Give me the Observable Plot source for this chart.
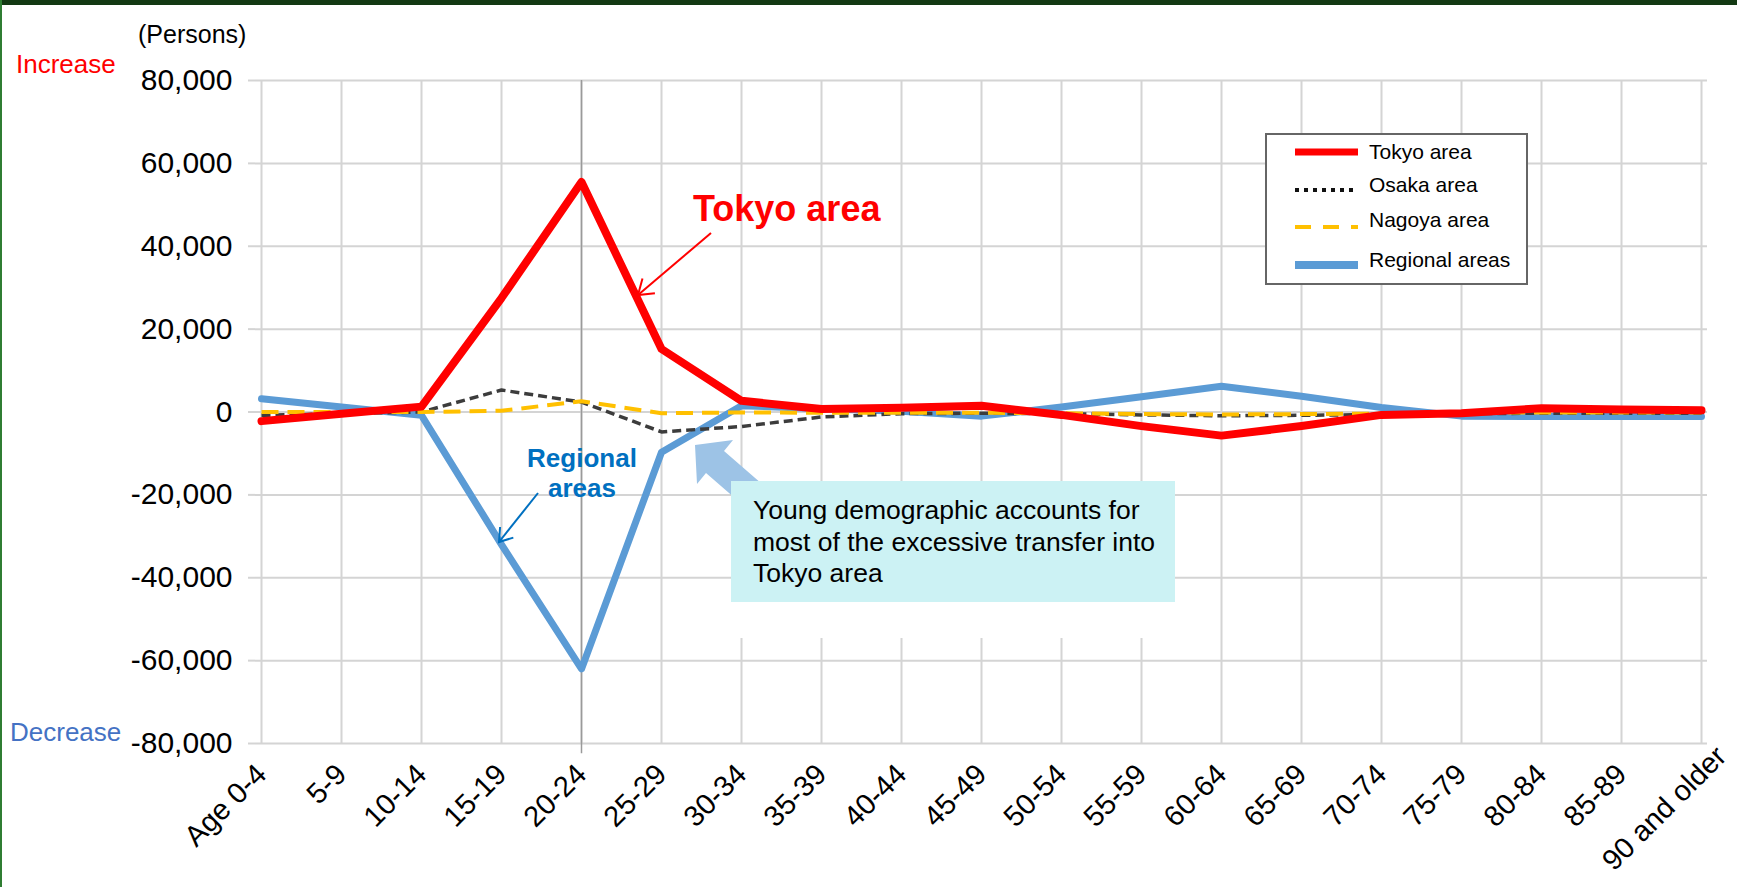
<!DOCTYPE html>
<html><head><meta charset="utf-8">
<script src="https://cdn.jsdelivr.net/npm/d3@7"></script>
<script src="https://cdn.jsdelivr.net/npm/@observablehq/plot@0.6"></script>
<style>
html,body{margin:0;padding:0;background:#fff;}
#wrap{position:relative;width:1737px;height:887px;overflow:hidden;font-family:"Liberation Sans",Arial,sans-serif;background:#fff;}
#topband{position:absolute;left:0;top:0;width:1737px;height:5px;background:#133913;}
#leftband{position:absolute;left:0;top:0;width:2px;height:887px;background:#2f7d32;}
</style></head>
<body><div id="wrap"></div>
<script>
const categories = ["Age 0-4","5-9","10-14","15-19","20-24","25-29","30-34","35-39","40-44","45-49","50-54","55-59","60-64","65-69","70-74","75-79","80-84","85-89","90 and older"];
const tokyo    = [-2200, -400, 1300, 27500, 55500, 15200, 2700, 700, 1000, 1500, -700, -3400, -5700, -3400, -700, -300, 900, 600, 400];
const osaka    = [-800, -400, 0, 5300, 2400, -4800, -3500, -1200, -400, -300, -400, -700, -900, -800, -600, -400, -300, -300, -300];
const nagoya   = [0, 0, 0, 300, 2600, -300, -100, -200, -200, -200, -300, -500, -600, -500, -400, -200, -100, -100, -100];
const regional = [3200, 1200, -800, -32000, -62000, -9700, 1500, 800, 200, -1000, 1200, 3700, 6200, 3800, 1100, -1000, -1100, -1100, -1100];
const yTicks = [-80000, -60000, -40000, -20000, 0, 20000, 40000, 60000, 80000];
const seriesNames = ["Tokyo area", "Osaka area", "Nagoya area", "Regional areas"];

const rows = (vals) => categories.map((c, i) => ({age: c, value: vals[i]}));
const fmt = d => d3.format(",")(d).replace("\u2212", "-");
const grid = "#d4d4d4";
const xLabelOpts = {tickRotate: -45, fontSize: 29, tickSize: 0, tickPadding: 26, fill: "black", label: null};

const chart = Plot.plot({
  width: 1737, height: 887,
  marginLeft: 255, marginRight: 30, marginTop: 80, marginBottom: 144,
  style: {fontFamily: "Liberation Sans, Arial, sans-serif", background: "transparent", color: "black", overflow: "visible"},
  x: {type: "point", domain: categories, padding: 0},
  y: {domain: [-80000, 80000]},
  marks: [
    Plot.gridY(yTicks, {stroke: grid, strokeOpacity: 1, strokeWidth: 2}),
    Plot.gridX(categories, {stroke: grid, strokeOpacity: 1, strokeWidth: 2}),
    Plot.ruleX(["20-24"], {y1: 80000, y2: -82500, stroke: "#9a9a9a", strokeWidth: 1.5}),
    Plot.axisY(yTicks, {tickFormat: fmt, fontSize: 30, tickSize: 7, tickPadding: 16, stroke: grid, strokeWidth: 2, fill: "black", label: null}),
    Plot.axisX(categories.slice(0, -1), xLabelOpts),
    Plot.axisX(categories.slice(-1), {...xLabelOpts, dx: 20, dy: -18}),
    Plot.line(rows(regional), {x: "age", y: "value", stroke: "#5B9BD5", strokeWidth: 7}),
    Plot.line(rows(osaka), {x: "age", y: "value", stroke: "#3c3c3c", strokeWidth: 3.5, strokeDasharray: "9,5", strokeLinecap: "butt"}),
    Plot.line(rows(nagoya), {x: "age", y: "value", stroke: "#FFC000", strokeWidth: 4, strokeDasharray: "17,9", strokeLinecap: "butt"}),
    Plot.line(rows(tokyo), {x: "age", y: "value", stroke: "#FF0000", strokeWidth: 8})
  ]
});

const wrap = document.getElementById("wrap");
wrap.appendChild(chart);
const tb = document.createElement("div"); tb.id = "topband"; wrap.appendChild(tb);
const lb = document.createElement("div"); lb.id = "leftband"; wrap.appendChild(lb);

const X = chart.scale("x"), Y = chart.scale("y");
const ov = d3.select("#wrap").append("svg")
  .attr("width", 1737).attr("height", 887)
  .style("position", "absolute").style("left", 0).style("top", 0)
  .style("font-family", "Liberation Sans, Arial, sans-serif");

function arrow(g, x1, y1, x2, y2, color, w, len) {
  g.append("line").attr("x1", x1).attr("y1", y1).attr("x2", x2).attr("y2", y2)
    .attr("stroke", color).attr("stroke-width", w);
  const a = Math.atan2(y1 - y2, x1 - x2);
  const p = d => [x2 + len * Math.cos(a + d), y2 + len * Math.sin(a + d)];
  const w1 = p(0.6), w2 = p(-0.6);
  g.append("path").attr("d", `M${w1[0]},${w1[1]}L${x2},${y2}L${w2[0]},${w2[1]}`)
    .attr("fill", "none").attr("stroke", color).attr("stroke-width", w);
}

// labels outside plot
ov.append("text").attr("x", 138).attr("y", 43).attr("font-size", 25).text("(Persons)");
ov.append("text").attr("x", 16).attr("y", 73).attr("font-size", 26).attr("fill", "#FF0000").text("Increase");
ov.append("text").attr("x", 10).attr("y", 741).attr("font-size", 26).attr("fill", "#4472C4").text("Decrease");

// Tokyo annotation
const xT = X.apply("25-29");
ov.append("text").attr("x", xT + 32).attr("y", Y.apply(46000)).attr("font-size", 36).attr("font-weight", "bold").attr("fill", "#FF0000").text("Tokyo area");
arrow(ov, xT + 50, 233, xT - 23, 295, "#FF0000", 2, 17);

// Regional annotation
const xR = X.apply("20-24");
ov.append("text").attr("x", xR + 1).attr("y", 467).attr("text-anchor", "middle").attr("font-size", 26).attr("font-weight", "bold").attr("fill", "#0070C0").text("Regional");
ov.append("text").attr("x", xR + 1).attr("y", 497).attr("text-anchor", "middle").attr("font-size", 26).attr("font-weight", "bold").attr("fill", "#0070C0").text("areas");
arrow(ov, 538, 493, 499, 542, "#0070C0", 2, 15);

// block arrow + callout
ov.append("path")
  .attr("d", "M695,445L733,440L724,451L762,484L744,506L706,473L697,484Z")
  .attr("fill", "#9DC3E6");
ov.append("rect").attr("x", 731).attr("y", 602).attr("width", 444).attr("height", 36).attr("fill", "#fff");
ov.append("rect").attr("x", 731).attr("y", 481).attr("width", 444).attr("height", 121).attr("fill", "#CCF2F4");
["Young demographic accounts for", "most of the excessive transfer into", "Tokyo area"].forEach((t, i) => {
  ov.append("text").attr("x", 753).attr("y", 519 + i * 31.5).attr("font-size", 26.5).attr("fill", "#000").text(t);
});

// legend
const lg = ov.append("g");
lg.append("rect").attr("x", 1266).attr("y", 134).attr("width", 261).attr("height", 150)
  .attr("fill", "#fff").attr("stroke", "#666").attr("stroke-width", 2);
const legendStyles = [
  {stroke: "#FF0000", w: 7, dash: null, y: 152, ty: 159},
  {stroke: "#111", w: 4, dash: "4,5", y: 190, ty: 192},
  {stroke: "#FFC000", w: 4, dash: "16,12", y: 227, ty: 227},
  {stroke: "#5B9BD5", w: 8, dash: null, y: 265, ty: 267}
];
seriesNames.forEach((name, i) => {
  const s = legendStyles[i];
  const l = lg.append("line").attr("x1", 1295).attr("x2", 1358).attr("y1", s.y).attr("y2", s.y)
    .attr("stroke", s.stroke).attr("stroke-width", s.w);
  if (s.dash) l.attr("stroke-dasharray", s.dash);
  lg.append("text").attr("x", 1369).attr("y", s.ty).attr("font-size", 21).attr("fill", "#000").text(name);
});
</script>
</body></html>
